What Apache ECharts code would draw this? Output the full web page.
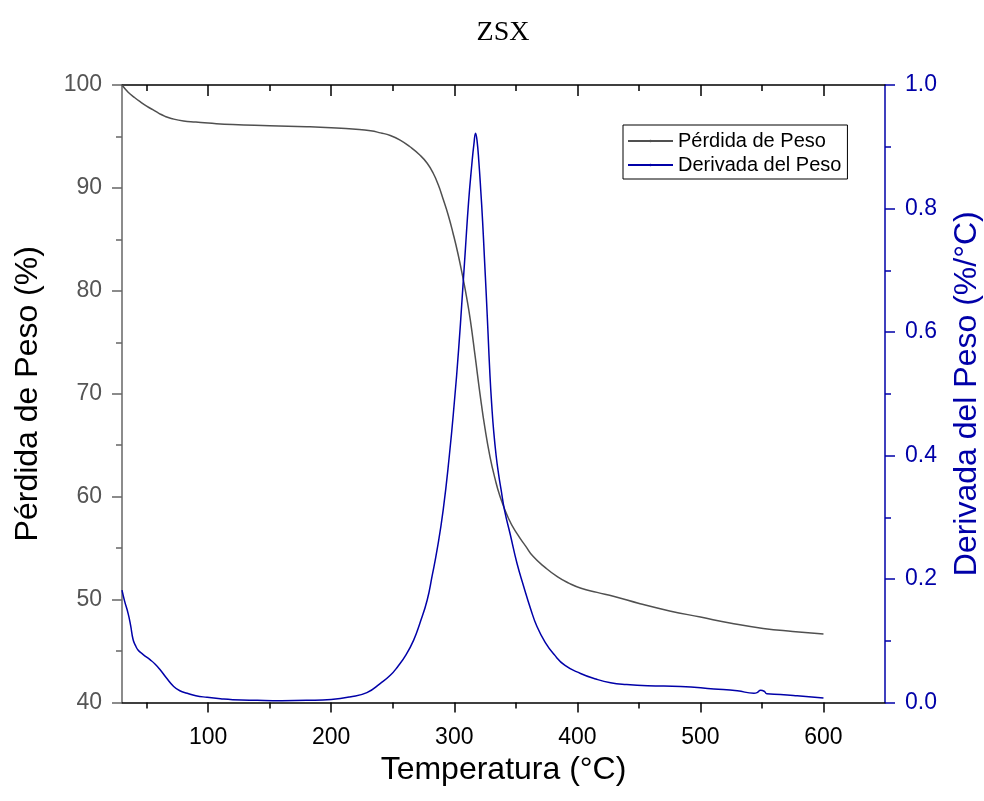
<!DOCTYPE html>
<html>
<head>
<meta charset="utf-8">
<script src="https://cdn.jsdelivr.net/npm/echarts@6/dist/echarts.min.js"></script>
<style>
html,body{margin:0;padding:0;background:#fff;}
#chart{width:984px;height:801px;}
</style>
</head>
<body>
<div id="chart"></div>
<script>
// Weight loss curve (TGA)
const weightTemp = [30,35,40,45,50,55,60,65,70,80,90,100,120,150,180,200,220,232,240,248,256,264,272,278,283,287,291,295,299,303,307,310,313,317,321,325,329,333,337,344,351,358,364,374,384,393,403,416,430,451,475,500,525,551,575,600];
const weightVal  = [100,99.3,98.8,98.35,97.95,97.6,97.25,96.95,96.75,96.5,96.4,96.3,96.15,96.05,95.95,95.85,95.7,95.55,95.35,95.1,94.65,94.0,93.2,92.4,91.4,90.3,88.9,87.4,85.6,83.6,81.3,79.4,77.2,73.6,69.9,66.6,63.9,61.8,60.1,57.9,56.4,55.2,54.2,53.1,52.2,51.6,51.1,50.7,50.3,49.6,48.9,48.3,47.7,47.2,46.9,46.65];

// Derivative curve (DTG)
const derivTemp = [30,32,35,37,39,41,43,47,53,57,61,66,72,77,83,90,99,110,120,140,160,180,200,215,229,240,248,254,261,267,272,278,282,286,291,296,300,303.5,306.3,309,311.6,314.2,316,317.3,318.5,320,321.5,323,324.5,326,327.5,329,330.5,332,334,336,338,341,345.5,351,356.4,362,367.2,374,381,390,402.6,415,427,440,457,484,511,530,543.5,546,549,552,554,565,578.6,600];
const derivVal  = [0.182,0.165,0.144,0.125,0.102,0.092,0.085,0.078,0.069,0.062,0.053,0.040,0.026,0.019,0.015,0.011,0.0084,0.006,0.0045,0.0035,0.003,0.0035,0.005,0.009,0.016,0.031,0.044,0.058,0.078,0.101,0.128,0.166,0.205,0.247,0.312,0.400,0.485,0.571,0.652,0.733,0.810,0.870,0.905,0.922,0.910,0.875,0.830,0.780,0.720,0.660,0.595,0.530,0.480,0.440,0.400,0.370,0.345,0.310,0.272,0.225,0.188,0.152,0.123,0.097,0.078,0.060,0.047,0.038,0.032,0.029,0.027,0.026,0.022,0.019,0.015,0.016,0.020,0.018,0.014,0.013,0.011,0.0073];

const xTicks = [100,200,300,400,500,600];
const seriesNames = ['Pérdida de Peso','Derivada del Peso'];
const chartTitle = 'ZSX';

const SANS = "'Liberation Sans', Arial, sans-serif";
const NARROW = "'Liberation Sans Narrow', 'Arial Narrow', 'Liberation Sans', sans-serif";
const BLUE = '#0000A8';
const GRAY = '#505050';

const chart = echarts.init(document.getElementById('chart'), null, {renderer:'canvas'});
chart.setOption({
  animation: false,
  backgroundColor: '#fff',
  title: {
    text: chartTitle, left: 498, top: 14, textAlign: 'center',
    textStyle: {fontFamily: "'Liberation Serif', 'Times New Roman', serif", fontWeight: 'normal', fontSize: 28, color: '#000'}
  },
  legend: {
    orient: 'vertical', left: 623, top: 125,
    borderColor: '#000', borderWidth: 1, padding: [6, 6, 4, 4],
    itemWidth: 45, itemHeight: 3, itemGap: 4,
    textStyle: {fontFamily: SANS, fontSize: 20, color: '#000'},
    data: seriesNames
  },
  grid: {left: 122, top: 85, width: 763, height: 617.5, containLabel: false, outerBoundsMode: 'none'},
  xAxis: [{
    type: 'value', position: 'bottom', min: 30, max: 650,
    name: 'Temperatura (°C)', nameLocation: 'middle', nameGap: 50,
    nameTextStyle: {fontFamily: NARROW, fontSize: 32, color: '#000'},
    axisLine: {lineStyle: {color: '#000', width: 1.5}},
    axisTick: {show: true, inside: false, length: 10, lineStyle: {color: '#000', width: 1.5}, customValues: xTicks},
    minorTick: {show: true, splitNumber: 2, length: 6, lineStyle: {color: '#000', width: 1.5}},
    axisLabel: {fontFamily: NARROW, fontSize: 23, color: '#000', margin: 24, customValues: xTicks},
    splitLine: {show: false}
  }, {
    type: 'value', position: 'top', min: 30, max: 650,
    axisLine: {lineStyle: {color: '#000', width: 1.5}},
    axisTick: {show: true, inside: true, length: 11, lineStyle: {color: '#000', width: 1.5}, customValues: xTicks},
    minorTick: {show: true, splitNumber: 2, length: 6, lineStyle: {color: '#000', width: 1.5}},
    axisLabel: {show: false},
    splitLine: {show: false}
  }],
  yAxis: [{
    type: 'value', position: 'left', min: 40, max: 100, interval: 10,
    name: 'Pérdida de Peso (%)', nameLocation: 'middle', nameGap: 78, nameRotate: 90,
    nameTextStyle: {fontFamily: SANS, fontSize: 32, color: '#000'},
    axisLine: {show: true, lineStyle: {color: '#666', width: 1.5}},
    axisTick: {show: true, inside: false, length: 10, lineStyle: {color: '#666', width: 1.5}},
    minorTick: {show: true, splitNumber: 2, length: 6, lineStyle: {color: '#666', width: 1.5}},
    axisLabel: {fontFamily: SANS, fontSize: 23, color: '#555', margin: 20},
    splitLine: {show: false}
  }, {
    type: 'value', position: 'right', min: 0, max: 1, interval: 0.2,
    name: 'Derivada del Peso (%/°C)', nameLocation: 'middle', nameGap: 66, nameRotate: 90,
    nameTextStyle: {fontFamily: SANS, fontSize: 32, color: BLUE},
    axisLine: {show: true, lineStyle: {color: BLUE, width: 1.5}},
    axisTick: {show: true, inside: false, length: 10, lineStyle: {color: BLUE, width: 1.5}},
    minorTick: {show: true, splitNumber: 2, length: 6, lineStyle: {color: BLUE, width: 1.5}},
    axisLabel: {fontFamily: SANS, fontSize: 23, color: BLUE, margin: 20, formatter: v => v.toFixed(1)},
    splitLine: {show: false}
  }],
  series: [{
    name: seriesNames[0], type: 'line', xAxisIndex: 0, yAxisIndex: 0,
    data: weightTemp.map((t, i) => [t, weightVal[i]]),
    showSymbol: false, symbol: 'circle', symbolSize: 3, smooth: true,
    lineStyle: {color: GRAY, width: 1.5}, itemStyle: {color: GRAY}
  }, {
    name: seriesNames[1], type: 'line', xAxisIndex: 0, yAxisIndex: 1,
    data: derivTemp.map((t, i) => [t, derivVal[i]]),
    showSymbol: false, symbol: 'circle', symbolSize: 3, smooth: true,
    lineStyle: {color: BLUE, width: 1.5}, itemStyle: {color: BLUE}
  }]
});
</script>
</body>
</html>
